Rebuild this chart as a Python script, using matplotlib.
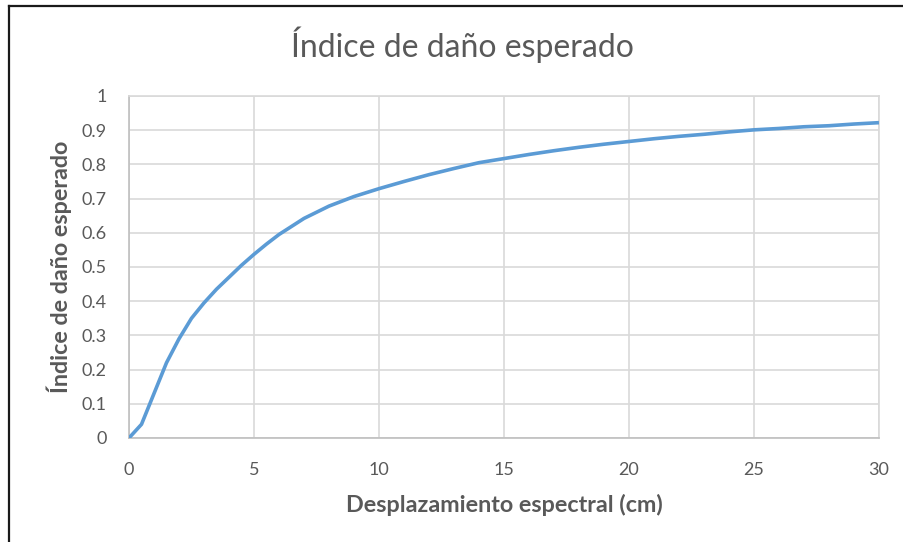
import matplotlib.pyplot as plt
from matplotlib.lines import Line2D

# Spectral displacement (cm) and expected damage index
displacement = [0, 0.5, 1, 1.5, 2, 2.5, 3, 3.5, 4, 4.5, 5, 5.5,
                6, 7, 8, 9, 10, 11, 12, 13, 14, 15, 16, 17, 18, 19, 20,
                21, 22, 23, 24, 25, 26, 27, 28, 29, 30]
damage_index = [0, 0.04, 0.13, 0.22, 0.29, 0.35, 0.395, 0.435, 0.47, 0.505, 0.537, 0.567,
                0.595, 0.642, 0.678, 0.706, 0.729, 0.75, 0.77, 0.788, 0.805, 0.817,
                0.829, 0.84, 0.85, 0.859, 0.867, 0.875, 0.882, 0.888, 0.895,
                0.901, 0.905, 0.91, 0.913, 0.918, 0.922]

x_ticks = [0, 5, 10, 15, 20, 25, 30]
y_ticks = [0, 0.1, 0.2, 0.3, 0.4, 0.5, 0.6, 0.7, 0.8, 0.9, 1]
y_tick_labels = ["0", "0.1", "0.2", "0.3", "0.4", "0.5", "0.6", "0.7", "0.8", "0.9", "1"]

text_gray = "#595959"
plt.rcParams["font.family"] = ["Lato", "DejaVu Sans"]

fig = plt.figure(figsize=(9.04, 5.42), dpi=100)
ax = fig.add_axes([0.1427, 0.1919, 0.8296, 0.631])

ax.plot(displacement, damage_index, color="#5b9bd5", linewidth=2.6,
        solid_capstyle="butt", solid_joinstyle="round", zorder=3)

ax.set_xlim(0, 30)
ax.set_ylim(0, 1)
ax.set_xticks(x_ticks)
ax.set_yticks(y_ticks)
ax.set_yticklabels(y_tick_labels)
ax.tick_params(axis="both", length=0, labelsize=13, labelcolor=text_gray)
ax.tick_params(axis="x", pad=17)
ax.tick_params(axis="y", pad=16)

ax.grid(True, color="#d9d9d9", linewidth=1.2)
ax.set_axisbelow(True)
for side in ["top", "right"]:
    ax.spines[side].set_color("#d9d9d9")
    ax.spines[side].set_linewidth(1.2)
for side in ["left", "bottom"]:
    ax.spines[side].set_color("#bfbfbf")
    ax.spines[side].set_linewidth(1.2)

ax.set_xlabel("Desplazamiento espectral (cm)", fontsize=16.8, fontweight="bold",
              color=text_gray, labelpad=12)
ax.set_ylabel("Índice de daño esperado", fontsize=16.8, fontweight="bold",
              color=text_gray, labelpad=7)

fig.text(0.511, 0.917, "Índice de daño esperado", ha="center", va="center",
         fontsize=23, color=text_gray)

# Chart frame (only the left and top edges fall inside the image)
fig.add_artist(Line2D([0.0105, 0.0105], [0, 0.989], transform=fig.transFigure,
                      color="#1a1a1a", linewidth=1.6))
fig.add_artist(Line2D([0.0105, 1], [0.989, 0.989], transform=fig.transFigure,
                      color="#1a1a1a", linewidth=1.6))

fig.savefig("out.png", dpi=100)
